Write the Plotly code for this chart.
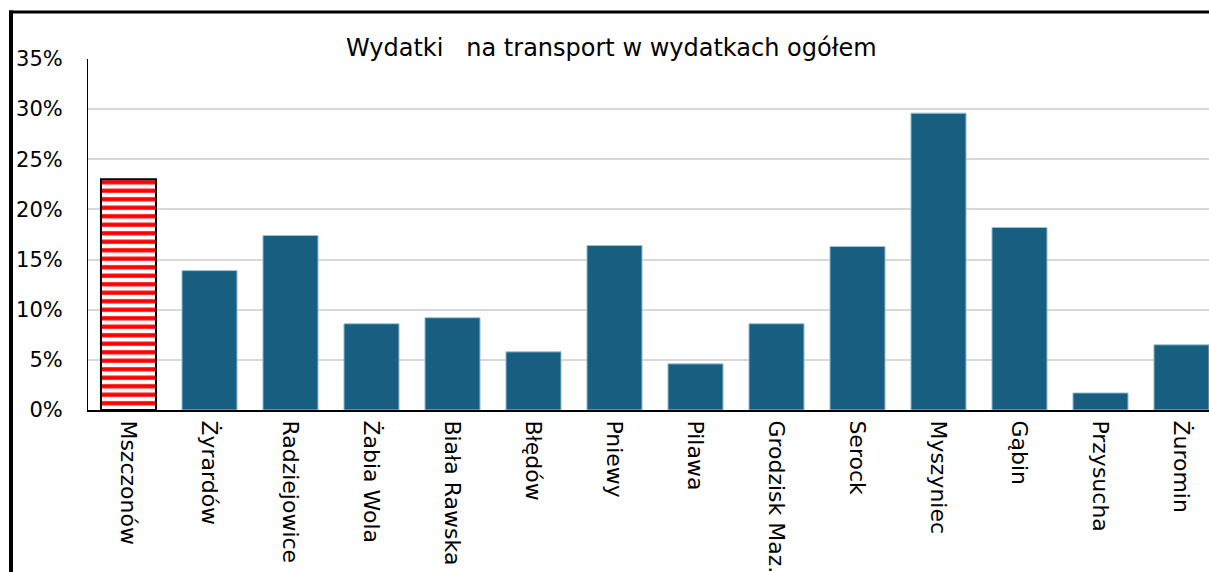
import plotly.graph_objects as go

categories = ["Mszczonów", "Żyrardów", "Radziejowice", "Żabia Wola", "Biała Rawska", "Błędów",
              "Pniewy", "Pilawa", "Grodzisk Maz.", "Serock", "Myszyniec", "Gąbin", "Przysucha", "Żuromin"]
values = [23.0, 13.9, 17.4, 8.6, 9.2, 5.8, 16.4, 4.6, 8.6, 16.3, 29.6, 18.2, 1.7, 6.5]
y_ticks = [0, 5, 10, 15, 20, 25, 30, 35]
y_tick_labels = [f"{t}%" for t in y_ticks]
title_text = "Wydatki\u00a0\u00a0 na transport w wydatkach ogółem"

FONT = "DejaVu Sans"
W, H = 1209, 572
L, R, T, B = 88, 0, 59, 162

fig = go.Figure()
# highlighted first bar
fig.add_trace(go.Bar(
    x=categories[:1], y=values[:1], width=0.68,
    marker=dict(color="white", line=dict(color="black", width=2),
                pattern=dict(shape="-", fgcolor="#ff0000", bgcolor="white", size=8.5, solidity=0.5,
                             fillmode="replace", fgopacity=1)),
    showlegend=False, hoverinfo="skip"))
fig.add_trace(go.Bar(
    x=categories[1:], y=values[1:], width=0.68,
    marker=dict(color="#175e80", line=dict(color="#9ec3d6", width=1)),
    showlegend=False, hoverinfo="skip"))

pw = W - L - R
ph = H - T - B

def px_x(p):
    return (p - L) / pw

def px_y(p):
    return (H - B - p) / ph

# outer frame lines
fig.add_shape(type="line", xref="paper", yref="paper", x0=px_x(9), x1=px_x(W + 5), y0=px_y(12), y1=px_y(12),
              line=dict(color="black", width=3))
fig.add_shape(type="line", xref="paper", yref="paper", x0=px_x(11), x1=px_x(11), y0=px_y(10.5), y1=px_y(H + 5),
              line=dict(color="black", width=4))

fig.add_annotation(text=title_text, xref="paper", yref="paper", x=px_x(611), y=px_y(64),
                   xanchor="center", yanchor="bottom", showarrow=False,
                   font=dict(family=FONT, size=24, color="black"))

fig.update_layout(
    width=W, height=H,
    margin=dict(l=L, r=R, t=T, b=B, pad=0),
    paper_bgcolor="white", plot_bgcolor="white",
    barmode="overlay",
    font=dict(family=FONT, color="black"),
)
fig.update_xaxes(
    type="category", categoryorder="array", categoryarray=categories,
    range=[-0.5, -0.5 + pw / 81.0],
    tickangle=90, tickfont=dict(family=FONT, size=22, color="black"),
    showline=True, linecolor="black", linewidth=2, ticks="", showgrid=False,
    ticklabelstandoff=4, automargin=False,
)
fig.update_yaxes(
    range=[0, 35], tickvals=y_ticks, ticktext=y_tick_labels,
    tickfont=dict(family=FONT, size=21, color="black"),
    showline=True, linecolor="black", linewidth=1, ticks="",
    showgrid=True, gridcolor="#d9d9d9", gridwidth=2, zeroline=False,
    ticklabelstandoff=20, automargin=False,
)

fig.write_html("out.html", config={"displayModeBar": False},
               post_script="document.body.style.margin='0';")
